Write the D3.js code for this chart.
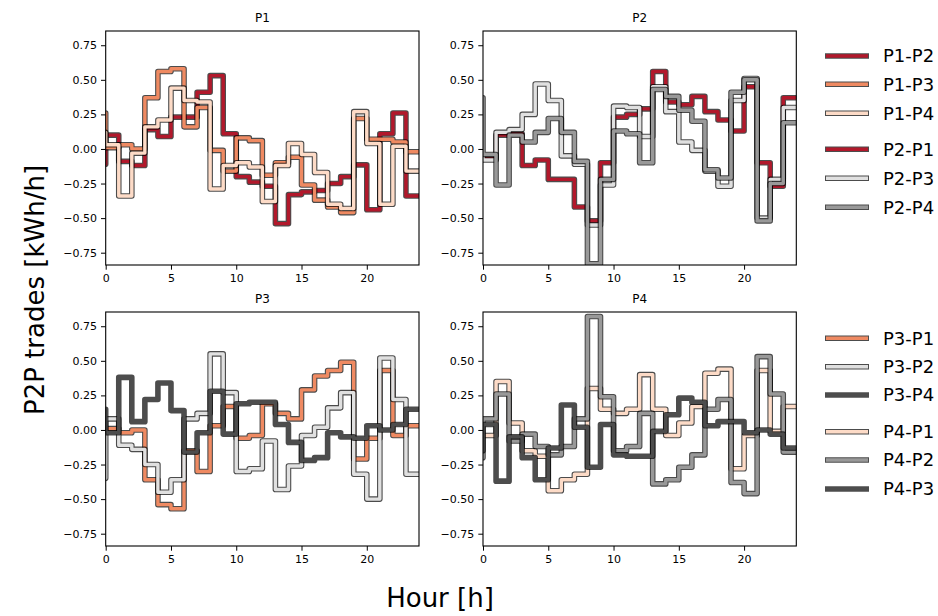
<!DOCTYPE html>
<html><head><meta charset="utf-8">
<script src="https://cdn.jsdelivr.net/npm/d3@7"></script>
<style>body{margin:0;background:#fff}svg{display:block;font-family:"DejaVu Sans",sans-serif}</style>
</head><body><svg id="c" width="938" height="616"></svg>
<script>
// hours 0..24 (first value = point at x=0, then one value per hour interval)
const hours = d3.range(0, 25);
const panels = ["P1", "P2", "P3", "P4"];
const xTicks = [0, 5, 10, 15, 20];
const yTicks = [-0.75, -0.5, -0.25, 0, 0.25, 0.5, 0.75];

const P1_P2 = [-0.11, 0.10, -0.09, -0.12, 0.14, 0.09, 0.23, 0.23, 0.41, 0.53, 0.11, -0.20, -0.24, -0.27, -0.54, -0.33, -0.31, -0.30, -0.25, -0.20, -0.115, -0.44, 0.11, 0.26, -0.34];
const P1_P3 = [0.26, 0.01, 0.03, 0.00, 0.37, 0.56, 0.58, 0.16, 0.30, -0.01, -0.16, 0.08, 0.06, -0.19, -0.10, -0.06, -0.26, -0.37, -0.42, -0.46, 0.22, 0.07, 0.07, 0.05, -0.02];
const P1_P4 = [0.12, 0.03, -0.34, -0.03, 0.16, 0.21, 0.44, 0.35, 0.34, -0.29, -0.12, -0.10, -0.13, -0.38, -0.12, 0.04, -0.04, -0.17, -0.40, -0.43, 0.27, 0.04, -0.40, 0.02, -0.16];
const P2_P1 = [-0.07, -0.07, 0.10, 0.11, -0.12, -0.08, -0.22, -0.22, -0.42, -0.52, -0.10, 0.23, 0.25, 0.29, 0.56, 0.34, 0.32, 0.38, 0.27, 0.21, 0.13, 0.45, -0.10, -0.27, 0.37];
const P2_P3 = [-0.05, -0.08, 0.12, 0.14, 0.25, 0.47, 0.35, -0.05, -0.11, -0.55, -0.26, 0.31, 0.30, 0.09, 0.45, 0.27, 0.05, -0.01, -0.16, -0.27, 0.35, 0.51, -0.50, -0.22, 0.30];
const P2_P4 = [0.37, -0.04, -0.26, 0.10, 0.05, 0.12, 0.22, 0.12, -0.09, -0.83, -0.22, 0.13, 0.11, -0.10, 0.43, 0.38, 0.28, 0.20, -0.15, -0.21, 0.41, 0.50, -0.52, -0.25, 0.19];
const P3_P1 = [0.01, 0.01, -0.02, 0.00, -0.36, -0.54, -0.57, -0.15, -0.30, 0.03, 0.17, -0.06, -0.04, 0.19, 0.12, 0.08, 0.29, 0.39, 0.43, 0.49, -0.21, -0.06, 0.43, -0.04, 0.03];
const P3_P2 = [-0.35, 0.08, -0.11, -0.14, -0.25, -0.45, -0.36, 0.08, 0.12, 0.55, 0.27, -0.30, -0.28, -0.08, -0.43, -0.26, -0.04, 0.02, 0.16, 0.27, -0.32, -0.50, 0.52, 0.22, -0.32];
const P3_P4 = [0.15, -0.02, 0.38, 0.06, 0.22, 0.34, 0.14, -0.16, -0.02, 0.28, -0.03, 0.19, 0.20, 0.20, 0.04, -0.09, -0.22, -0.20, -0.02, -0.05, -0.06, 0.03, 0.00, 0.04, 0.15];
const P4_P1 = [-0.04, -0.04, 0.35, 0.05, -0.15, -0.19, -0.44, -0.36, -0.32, 0.30, 0.15, 0.12, 0.15, 0.40, 0.15, -0.04, 0.05, 0.17, 0.41, 0.44, -0.28, -0.04, 0.43, -0.01, 0.17];
const P4_P2 = [-0.20, 0.08, 0.26, -0.08, -0.03, -0.12, -0.18, -0.12, 0.08, 0.82, 0.24, -0.15, -0.12, 0.12, -0.39, -0.36, -0.27, -0.18, 0.15, 0.22, -0.38, -0.46, 0.53, 0.26, -0.16];
const P4_P3 = [-0.15, 0.04, -0.37, -0.05, -0.20, -0.36, -0.13, 0.18, 0.02, -0.27, 0.04, -0.18, -0.19, -0.19, -0.01, 0.11, 0.23, 0.20, 0.03, 0.06, 0.06, -0.02, 0.00, -0.03, -0.13];

const seriesNames = [["P1-P2","P1-P3","P1-P4"],["P2-P1","P2-P3","P2-P4"],["P3-P1","P3-P2","P3-P4"],["P4-P1","P4-P2","P4-P3"]];
const seriesValues = [[P1_P2,P1_P3,P1_P4],[P2_P1,P2_P3,P2_P4],[P3_P1,P3_P2,P3_P4],[P4_P1,P4_P2,P4_P3]];
const pairColor = {"P1P2":"#b2182b","P1P3":"#ef8a62","P1P4":"#fddbc7","P2P3":"#e0e0e0","P2P4":"#999999","P3P4":"#4d4d4d"};
function colorOf(name){ const p = name.split("-").sort(); return pairColor[p[0]+p[1]]; }

const svg = d3.select("#c");
const W = 313.3, H = 234;
const origins = [[105.7,31],[483,31],[105.7,312],[483,312]];
const yDomain = [-0.839, 0.853];

panels.forEach((title, i) => {
  const [ox, oy] = origins[i];
  const x = d3.scaleLinear().domain([0,24]).range([ox, ox+W]);
  const y = d3.scaleLinear().domain(yDomain).range([oy+H, oy]);
  const g = svg.append("g");
  g.append("clipPath").attr("id","clip"+i).append("rect").attr("x",ox).attr("y",oy).attr("width",W).attr("height",H);
  const line = d3.line().x((d,k)=>x(hours[k])).y(d=>y(d)).curve(d3.curveStepBefore);
  const lg = g.append("g").attr("clip-path","url(#clip"+i+")");
  seriesValues[i].forEach((vals, s) => {
    lg.append("path").attr("d", line(vals)).attr("fill","none").attr("stroke","#000").attr("stroke-opacity",0.7)
      .attr("stroke-width",5.6).attr("stroke-linejoin","round").attr("stroke-linecap","round");
    lg.append("path").attr("d", line(vals)).attr("fill","none").attr("stroke",colorOf(seriesNames[i][s]))
      .attr("stroke-width",3.4).attr("stroke-linejoin","round").attr("stroke-linecap","round");
  });
  const ax = g.append("g").attr("transform",`translate(0,${oy+H})`)
    .call(d3.axisBottom(x).tickValues(xTicks).tickSize(4.7).tickPadding(4).tickFormat(d3.format("d")));
  const ay = g.append("g").attr("transform",`translate(${ox},0)`)
    .call(d3.axisLeft(y).tickValues(yTicks).tickSize(4.7).tickPadding(4).tickFormat(d3.format(".2f")));
  [ax, ay].forEach(a => { a.select(".domain").remove(); a.selectAll("line").attr("stroke","#000").attr("stroke-width",1);
    a.selectAll("text").attr("font-family","DejaVu Sans").attr("font-size",11).attr("fill","#000"); });
  g.append("rect").attr("x",ox).attr("y",oy).attr("width",W).attr("height",H).attr("fill","none").attr("stroke","#000").attr("stroke-width",1.1);
  g.append("text").attr("x",ox+W/2).attr("y",oy-9).attr("text-anchor","middle").attr("font-size",12).text(title);
});

// legends
const legendGroups = [[seriesNames[0], seriesNames[1]], [seriesNames[2], seriesNames[3]]];
const legendY = [[56, 84.3, 113.3, 149.3, 178.3, 207.3],[338.3, 366.7, 395, 431.7, 460, 489]];
legendGroups.forEach((grp, gi) => {
  const names = grp[0].concat(grp[1]);
  names.forEach((n, k) => {
    const yy = legendY[gi][k];
    svg.append("line").attr("x1",825).attr("x2",869).attr("y1",yy).attr("y2",yy).attr("stroke","#000").attr("stroke-opacity",0.7).attr("stroke-width",5.6).attr("stroke-linecap","butt");
    svg.append("line").attr("x1",826).attr("x2",868).attr("y1",yy).attr("y2",yy).attr("stroke",colorOf(n)).attr("stroke-width",3.4).attr("stroke-linecap","butt");
    svg.append("text").attr("x",883).attr("y",yy).attr("dy","0.35em").attr("font-size",18).text(n);
  });
});

svg.append("text").attr("transform","translate(44,290) rotate(-90)").attr("text-anchor","middle").attr("font-size",26).text("P2P trades [kWh/h]");
svg.append("text").attr("x",440).attr("y",607).attr("text-anchor","middle").attr("font-size",26).text("Hour [h]");
</script></body></html>
